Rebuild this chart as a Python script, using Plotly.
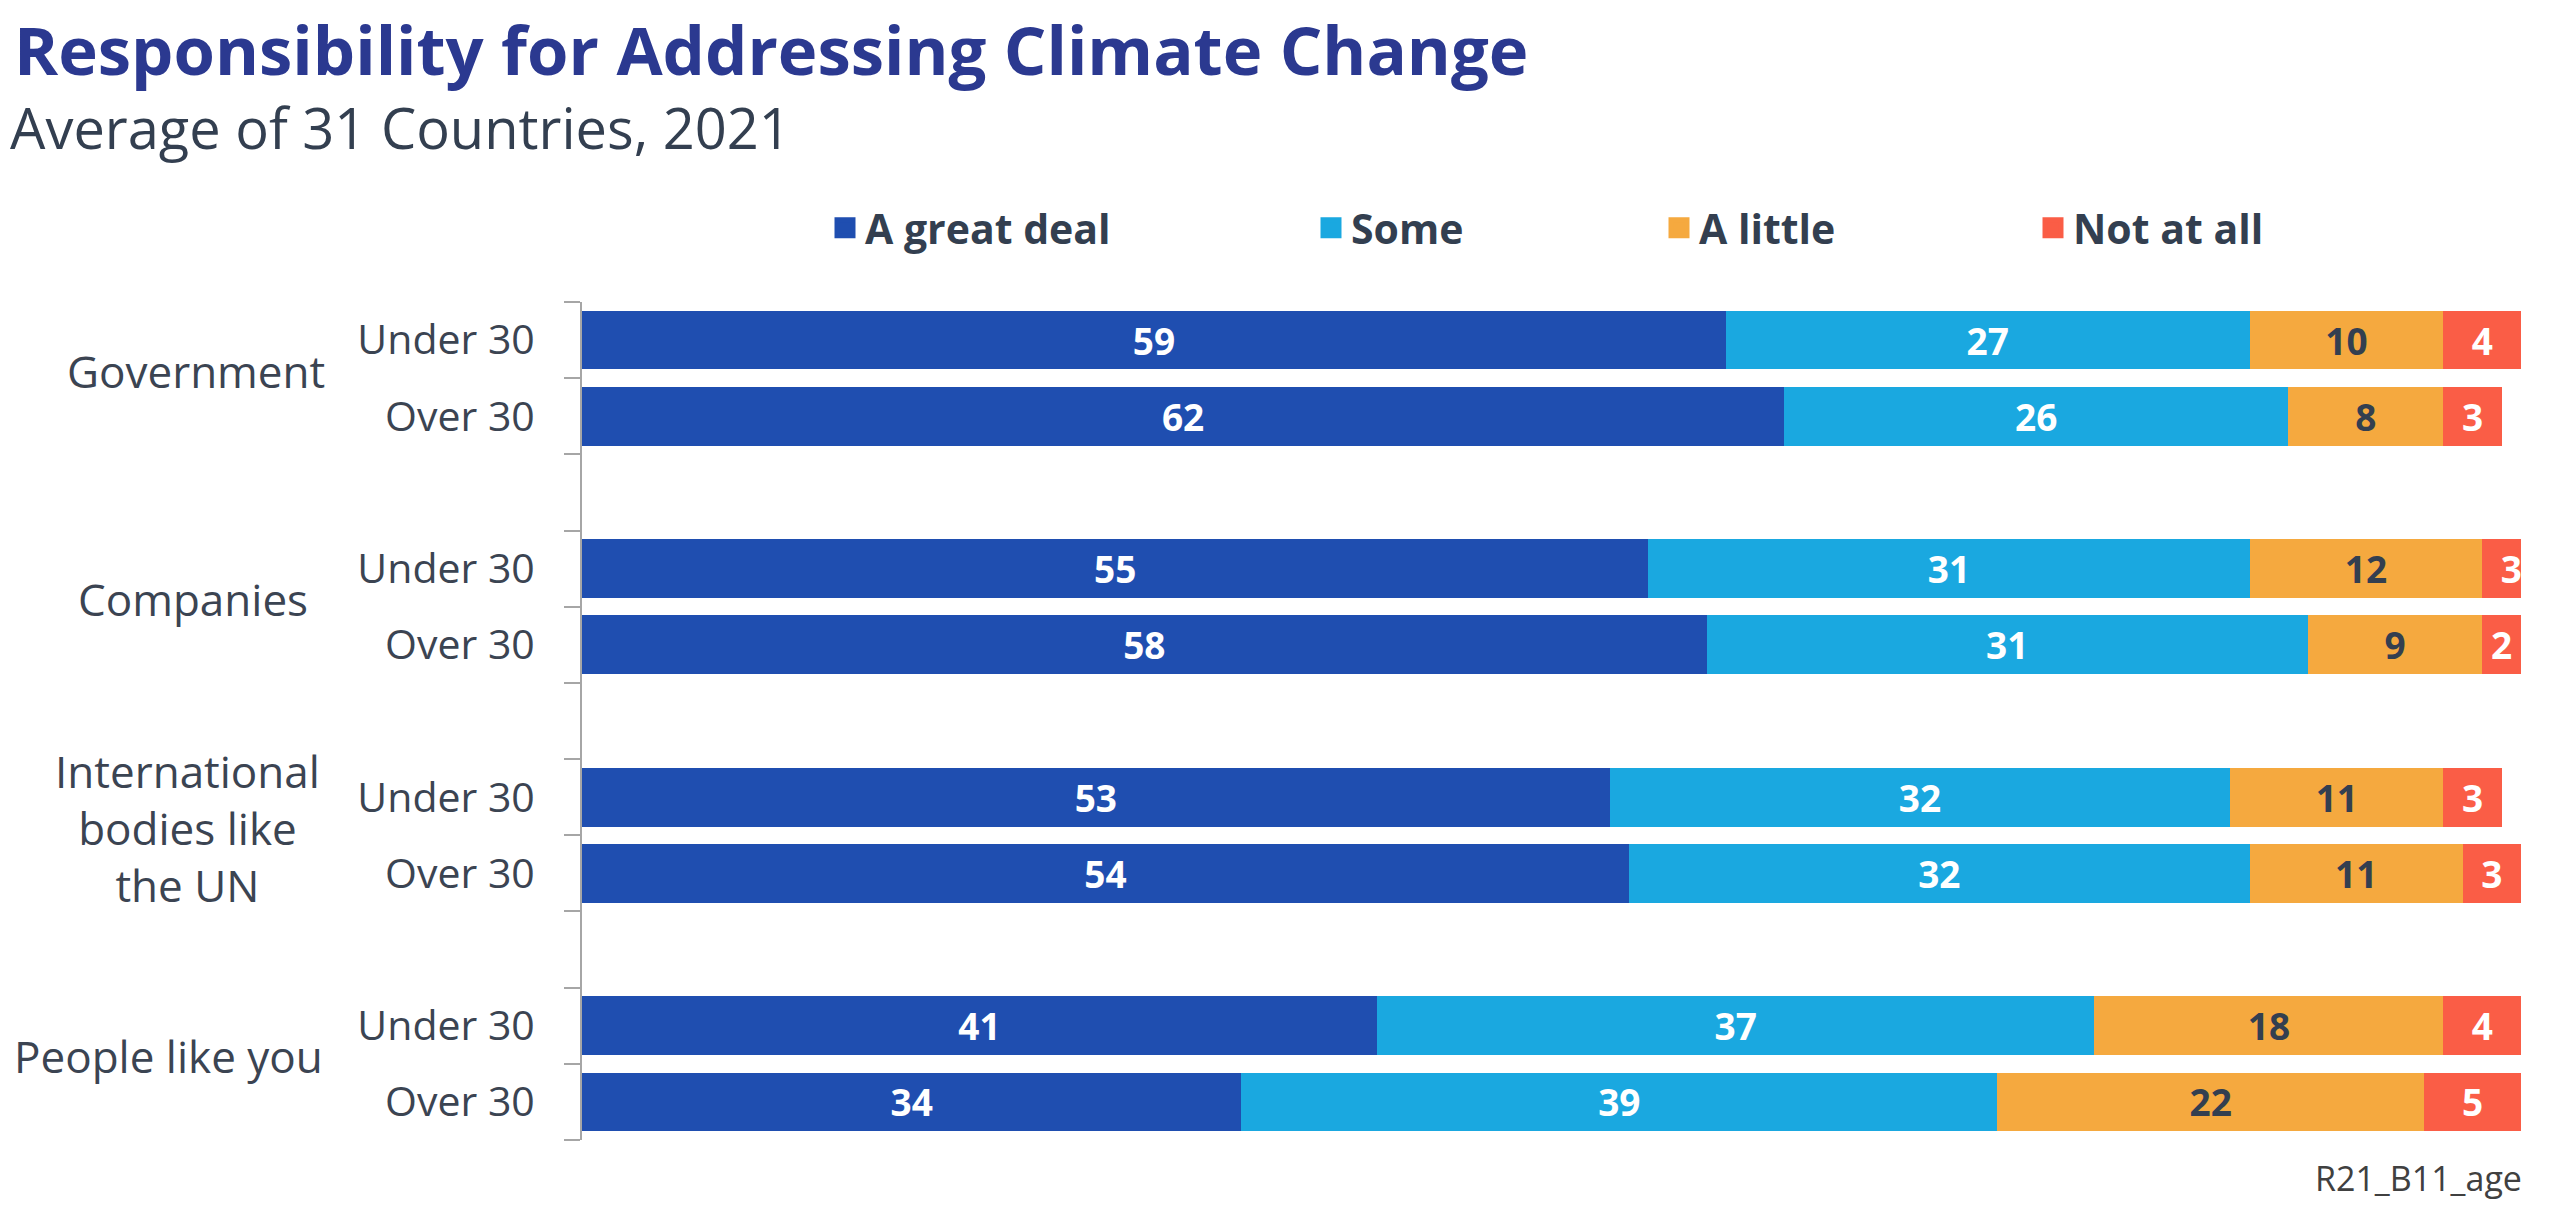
import plotly.graph_objects as go

# ---- data ----
groups = ["Government", "Companies", "International<br>bodies like<br>the UN", "People like you"]
ages = ["Under 30", "Over 30"]
series_names = ["A great deal", "Some", "A little", "Not at all"]
great_deal = [59, 62, 55, 58, 53, 54, 41, 34]
some = [27, 26, 31, 31, 32, 32, 37, 39]
a_little = [10, 8, 12, 9, 11, 11, 18, 22]
not_at_all = [4, 3, 3, 2, 3, 3, 4, 5]
footnote = "R21_B11_age"
title = "Responsibility for Addressing Climate Change"
subtitle = "Average of 31 Countries, 2021"

# ---- styles ----
colors = ["#1F4EB0", "#1AA8E0", "#F5A93F", "#FA5D46"]
text_colors = ["#FFFFFF", "#FFFFFF", "#333F50", "#FFFFFF"]
label_color = "#3B4452"
FONT = "Open Sans"
W, H = 2560, 1220
L, R, T, B = 574, 47, 294, 88
PW, PH = W - L - R, H - T - B


def px_x(px):
    return (px - L) / PW


def px_y(py):
    return (H - B - py) / PH


# categories: each group has Under 30, Over 30 and a blank spacer slot
cats, tick_text, data_cats = [], [], []
for gi, g in enumerate(groups):
    for a in ages:
        key = f"{gi}|{a}"
        cats.append(key)
        tick_text.append(a)
        data_cats.append(key)
    if gi < len(groups) - 1:
        cats.append(f"gap{gi}")
        tick_text.append("")

fig = go.Figure()
all_series = [great_deal, some, a_little, not_at_all]
for i, (name, vals) in enumerate(zip(series_names, all_series)):
    fig.add_trace(go.Bar(
        y=data_cats, x=vals, name=name, orientation="h",
        marker=dict(color=colors[i], line=dict(width=0)),
        text=vals, texttemplate="%{x}", textposition="inside",
        insidetextanchor="middle", constraintext="none",
        textfont=dict(family=FONT, size=37, weight="bold", color=text_colors[i]),
        showlegend=False, hoverinfo="skip",
    ))

# legend-only entries (larger square swatches)
for i, name in enumerate(series_names):
    fig.add_trace(go.Scatter(
        x=[None], y=[None], mode="markers", name=name,
        marker=dict(symbol="square", size=16, color=colors[i],
                    line=dict(width=5, color=colors[i])),
        legend="legend" if i == 0 else f"legend{i+1}",
        showlegend=True, hoverinfo="skip",
    ))

# legend positions (text start, container px)
legend_text_x = [861, 1347, 1695, 2069]
legend_y = 1 - 220 / H
for i, tx in enumerate(legend_text_x):
    key = "legend" if i == 0 else f"legend{i+1}"
    fig.update_layout({key: dict(
        x=(tx - 44) / W, y=legend_y, xref="container", yref="container",
        xanchor="left", yanchor="middle", orientation="h",
        bgcolor="rgba(0,0,0,0)", borderwidth=0, itemsizing="trace",
        font=dict(family=FONT, size=41, weight="bold", color="#333F50"),
    )})

annotations = []
group_center_px = [188, 185, 179, 160]
for gi, g in enumerate(groups):
    annotations.append(dict(
        text=g, xref="paper", yref="y",
        x=px_x(group_center_px[gi]), y=gi * 3 + 0.4,
        xanchor="center", yanchor="middle", showarrow=False, align="center",
        font=dict(family=FONT, size=44, color=label_color),
    ))
annotations.append(dict(
    text=subtitle, xref="paper", yref="paper", x=px_x(0), y=px_y(79),
    xanchor="left", yanchor="top", showarrow=False,
    font=dict(family=FONT, size=56, color="#333F50"),
))
annotations.append(dict(
    text=footnote, xref="paper", yref="paper", x=px_x(2516), y=px_y(1170),
    xanchor="right", yanchor="middle", showarrow=False,
    font=dict(family=FONT, size=34, color="#404040"),
))

fig.update_layout(
    width=W, height=H, showlegend=True,
    margin=dict(l=L, r=R, t=T, b=B),
    paper_bgcolor="white", plot_bgcolor="white",
    barmode="stack", bargap=0.23,
    title=dict(text=title, x=6 / W, xref="container", xanchor="left",
               y=1 - 20 / H, yref="container", yanchor="top",
               font=dict(family=FONT, size=67, weight="bold", color="#2B3990")),
    xaxis=dict(range=[0, 100], showgrid=False, showticklabels=False,
               zeroline=False, showline=False, ticks=""),
    yaxis=dict(type="category", categoryorder="array", categoryarray=cats,
               tickmode="array", tickvals=cats, ticktext=tick_text,
               range=[len(cats) - 0.5, -0.5], tickson="boundaries",
               ticks="outside", ticklen=16, tickwidth=2, tickcolor="#A6A6A6",
               showline=True, linewidth=2, linecolor="#A6A6A6",
               showgrid=False, zeroline=False, ticklabelstandoff=37,
               tickfont=dict(family=FONT, size=41, color=label_color)),
    annotations=annotations,
    uniformtext=dict(mode=False),
)

fig.write_html("out.html")
